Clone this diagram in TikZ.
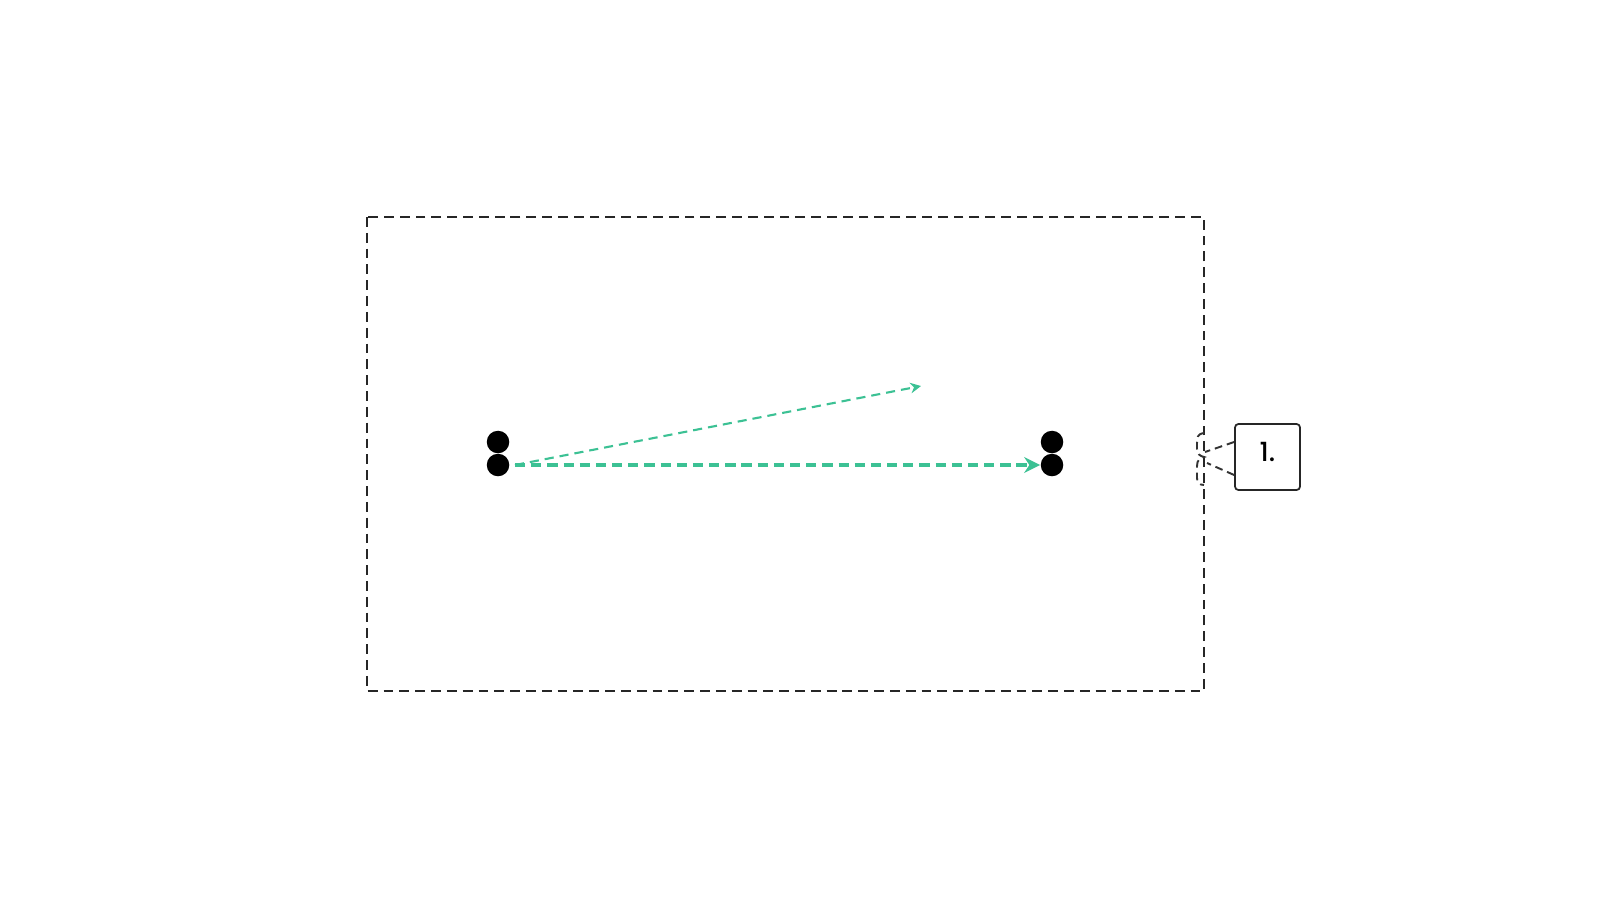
\documentclass[tikz,border=0pt]{standalone}
\usepackage{fontspec}
\setmainfont{Poppins}
\newfontfamily\pmed{Poppins Medium}
\usetikzlibrary{arrows.meta}
\definecolor{teal1}{HTML}{3CC194}
\tikzset{
  frame/.style={draw=black!85, line width=0.7pt, dash pattern=on 2.8pt off 1.7pt},
  dot/.style={circle, fill=black, inner sep=0pt, minimum size=0.225cm},
  mainarrow/.style={draw=teal1, line width=0.95pt, dash pattern=on 2.9pt off 1.7pt, -{Stealth[length=4.5pt,width=4.5pt]}},
  thinarrow/.style={draw=teal1, line width=0.6pt, dash pattern=on 2.6pt off 1.7pt, -{Stealth[length=3pt,width=3pt]}},
  callout/.style={draw=black!85, line width=0.5pt, rounded corners=1pt, minimum width=0.65cm, minimum height=0.66cm},
  calldash/.style={draw=black!80, line width=0.55pt, dash pattern=on 2.2pt off 1.4pt},
  calltext/.style={font=\pmed\fontsize{7.5}{8}\selectfont}
}
\begin{document}
\begin{tikzpicture}[x=0.01cm,y=-0.01cm]
\useasboundingbox (0,0) rectangle (1600,900);
\draw[frame] (367,217) rectangle (1204,691);
\node[dot] (l1) at (498,442) {};
\node[dot] (l2) at (498,465) {};
\node[dot] (r1) at (1052,442) {};
\node[dot] (r2) at (1052,465) {};
\coordinate (s) at (515,465);
\coordinate (t) at (921,386);
\draw[thinarrow] (s) -- (t);
\draw[mainarrow] (s) -- (r2.west);
\node[callout] (c) at (1267.5,457) {};
\node[calltext] (ct) at (1267.5,452) {1.};
\coordinate (b1) at (1204,433);
\coordinate (bm) at (1204,457);
\coordinate (b2) at (1204,485);
\draw[calldash] (b1) .. controls (1197,434) and (1197,438) .. (1197,443) -- (1197,449) .. controls (1197,454) and (1200,456) .. (bm) .. controls (1200,458) and (1197,460) .. (1197,466) -- (1197,478) .. controls (1197,482) and (1199,485) .. (b2);
\draw[calldash] (c.west |- 0,442) -- (1205,452);
\draw[calldash] (c.west |- 0,475) -- (1207,463);
\end{tikzpicture}
\end{document}
